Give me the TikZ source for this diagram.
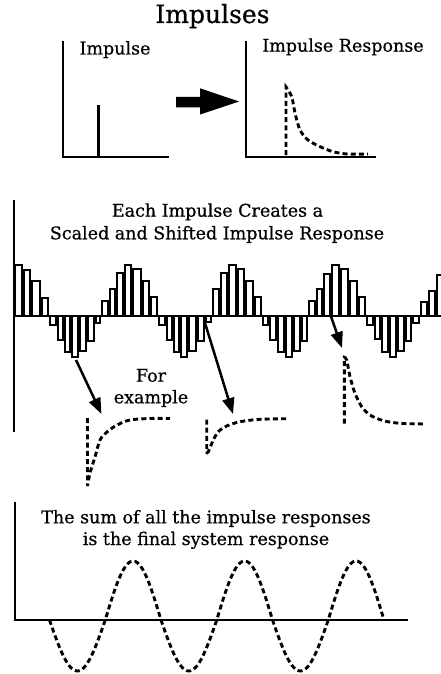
\documentclass[tikz,border=0pt]{standalone}
\usepackage{fontspec}
\setmainfont{DejaVu Serif}[FakeBold=0.6]
\usetikzlibrary{arrows.meta}
\tikzset{
  ttl/.style={font=\fontsize{25}{28}\selectfont, inner sep=0pt, anchor=base},
  lbl/.style={font=\fontsize{17.5}{20}\selectfont, inner sep=0pt, anchor=base},
  axis/.style={line width=2pt},
  resp/.style={line width=2.9pt, dash pattern=on 5pt off 3.2pt},
  sbar/.style={line width=1.9pt, fill=white},
  pointer/.style={line width=2.5pt, -{Triangle[length=16pt,width=12pt]}},
}
\begin{document}
\begin{tikzpicture}[x=1pt,y=-1pt]
\useasboundingbox (0,0) rectangle (441,674);
\fill[white] (0,0) rectangle (441,674);

% ---------- title ----------
\node[ttl] (title) at (212.5,23) {Impulses};

% ---------- top-left panel ----------
\coordinate (tlTop) at (63.3,41);
\coordinate (tlO) at (63.3,156.5);
\coordinate (tlR) at (168.5,156.5);
\draw[axis] (tlTop) -- (tlO) -- (tlR);
\node[lbl] (impulse) at (115,54.5) {Impulse};
\coordinate (impB) at (98.3,156);
\coordinate (impT) at (98.3,105);
\draw[line width=3.3pt] (impB) -- (impT);

% block arrow
\fill (176,97) -- (200,97) -- (200,88.3) -- (239,101.5) -- (200,114.5) -- (200,107.3) -- (176,107.3) -- cycle;

% ---------- top-right panel ----------
\coordinate (trTop) at (246,41);
\coordinate (trO) at (246,156.5);
\coordinate (trR) at (376,156.5);
\draw[axis] (trTop) -- (trO) -- (trR);
\node[lbl] (impresp) at (343,51.7) {Impulse Response};
\draw[resp] (286,155) -- plot[smooth] coordinates {(286,87) (291.7,96.7) (295,113) (300,130) (308,140) (320,146.7) (333,151.7) (347,154) (368,154)};

% ---------- middle panel ----------
\node[lbl] (each) at (217.5,216.7) {Each Impulse Creates a};
\node[lbl] (scaled) at (217,239.3) {Scaled and Shifted Impulse Response};

\foreach \l/\r/\h in {
 14/22.7/50.7, 22.7/31.3/46, 31.3/40.7/34.7, 40.7/49.3/18,
 49.3/56.7/-8.7, 56.7/64/-24, 64/71.3/-36, 71.3/79.3/-41.3, 79.3/87.3/-35.3, 87.3/95.3/-25.3, 95.3/101.3/-6.7,
 101.3/108.7/14.7, 108.7/116.3/26.7, 116.3/123.7/42.7, 123.7/132.3/50.7, 132.3/141.7/46.7, 141.7/150.3/35.3, 150.3/158.3/18.7,
 158.3/165.7/-8.7, 165.7/173/-24, 173/180.3/-36, 180.3/188.3/-41.3, 188.3/197/-34.7, 197/205/-25.3, 205/212.3/-6,
 212.3/220/26.7, 220/228/42.7, 228/236.7/50.7, 236.7/245.3/46.7, 245.3/254/35.3, 254/262/18.7,
 262/269.3/-9.3, 269.3/276.7/-24, 276.7/284.7/-36, 284.7/292.7/-41.3, 292.7/300.7/-34.7, 300.7/308/-25.3,
 308/316/14.7, 316/323.3/26.7, 323.3/331/42, 331/339.7/50.7, 339.7/349/46.7, 349/357.7/35.3, 357.7/366.3/18.7,
 366.3/373.7/-8.7, 373.7/381/-23.3, 381/389/-36, 389/397/-41.3, 397/405/-34.7, 405/412.3/-25.3, 412.3/420.3/-6.7,
 420.3/428.3/14, 428.3/436.3/25.3, 436.3/444/40.7}
{
  \draw[sbar] ({\l+0.95},316) rectangle ({\r-0.95},{316-(\h)});
}
\coordinate (midTop) at (14,200);
\coordinate (midBot) at (14,431.5);
\coordinate (midL) at (14,316);
\coordinate (midR) at (441,316);
\draw[axis] (midTop) -- (midBot);
\draw[axis] (midL) -- (midR);

% pointers
\coordinate (p1s) at (76,360);
\coordinate (p1e) at (101.5,414);
\coordinate (p2s) at (205,323);
\coordinate (p2e) at (233,414);
\coordinate (p3s) at (331,316.5);
\coordinate (p3e) at (342,348);
\draw[pointer] (p1s) -- (p1e);
\draw[pointer] (p2s) -- (p2e);
\draw[pointer] (p3s) -- (p3e);

\node[lbl] (for) at (151,381.7) {For};
\node[lbl] (example) at (151,403.3) {example};

% scaled and shifted responses
\draw[resp] (87.5,418) -- plot[smooth] coordinates {(87.5,486) (90,473) (95,457) (100,440) (107,432) (117,425) (130,420) (150,418.5) (170,418.5)};
\draw[resp] (206.7,419.5) -- plot[smooth] coordinates {(206.7,452.5) (208.3,451.7) (213.3,440) (218.3,431.7) (226.7,426) (240,421.7) (260,419.3) (288.3,418.7)};
\draw[resp] (344.3,423.5) -- plot[smooth] coordinates {(344.3,357.3) (346.7,360) (350,376.7) (355,393.3) (361.7,406.7) (370,415) (383.3,420.7) (400,423.3) (425,424)};

% ---------- bottom panel ----------
\node[lbl] (sum1) at (206,523.3) {The sum of all the impulse responses};
\node[lbl] (sum2) at (206,545) {is the final system response};
\coordinate (botTop) at (15,501.5);
\coordinate (botO) at (15,620);
\coordinate (botR) at (407.5,620);
\draw[axis] (botTop) -- (botO) -- (botR);
\draw[resp] plot[domain=49.5:384, samples=240] (\x,{620 + ((sin((\x-49.5)/111.5*360) > 0) ? 51 : 59)*sin((\x-49.5)/111.5*360)});
\end{tikzpicture}
\end{document}
